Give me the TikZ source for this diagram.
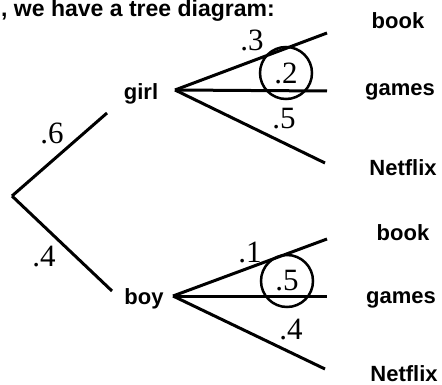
\documentclass[tikz,border=0pt]{standalone}
\usepackage{fontspec}
\setmainfont{Liberation Serif}
\setsansfont{Liberation Sans}
\usepackage{tikz}
\usetikzlibrary{positioning}

\begin{document}
\begin{tikzpicture}[
    x=1pt, y=-1pt,
    branch/.style={line width=3pt},
    word/.style={font=\fontsize{22}{24}\selectfont\sffamily\bfseries, inner sep=0pt},
    prob/.style={font=\fontsize{31}{33}\selectfont, inner sep=0pt},
    picked/.style={prob, circle, draw, line width=2.5pt, minimum size=52pt},
  ]
  \useasboundingbox (0,0) rectangle (442,385);

  % Title
  \node[word, anchor=base west, font=\fontsize{23}{25}\selectfont\sffamily\bfseries]
    (title) at (1,17) {, we have a tree diagram:};

  % First split
  \coordinate (root) at (12,196);
  \coordinate (girlEnd) at (107,113);
  \coordinate (boyEnd) at (112,291);
  \draw[branch] (root) -- (girlEnd);
  \draw[branch] (root) -- (boyEnd);
  \node[prob] (pGirl) at (52,133) {.6};
  \node[prob] (pBoy) at (44,257) {.4};

  \node[word] (girl) at (141,94) {girl};
  \node[word] (boy) at (144,299) {boy};

  % Girl branches
  \coordinate (girlFork) at (175,90);
  \coordinate (gBookEnd) at (327,33);
  \coordinate (gGamesEnd) at (327,91);
  \coordinate (gNetEnd) at (325,163);
  \draw[branch] (girlFork) -- (gBookEnd);
  \draw[branch] (girlFork) -- (gGamesEnd);
  \draw[branch] (girlFork) -- (gNetEnd);
  \node[prob] (gBookP) at (252,40) {.3};
  \node[picked] (gGamesP) at (286,73) {.2};
  \node[prob] (gNetP) at (284,119) {.5};

  \node[word] (gBook) at (398,21) {book};
  \node[word] (gGames) at (400,92) {games};
  \node[word] (gNet) at (403,168) {Netflix};

  % Boy branches
  \coordinate (boyFork) at (173,296);
  \coordinate (bBookEnd) at (327,239);
  \coordinate (bGamesEnd) at (327,296);
  \coordinate (bNetEnd) at (325,369);
  \draw[branch] (boyFork) -- (bBookEnd);
  \draw[branch] (boyFork) -- (bGamesEnd);
  \draw[branch] (boyFork) -- (bNetEnd);
  \node[prob] (bBookP) at (250,252) {.1};
  \node[picked] (bGamesP) at (287,281) {.5};
  \node[prob] (bNetP) at (291,330) {.4};

  \node[word] (bBook) at (403,233) {book};
  \node[word] (bGames) at (401,300) {games};
  \node[word] (bNet) at (404,374) {Netflix};
\end{tikzpicture}
\end{document}
